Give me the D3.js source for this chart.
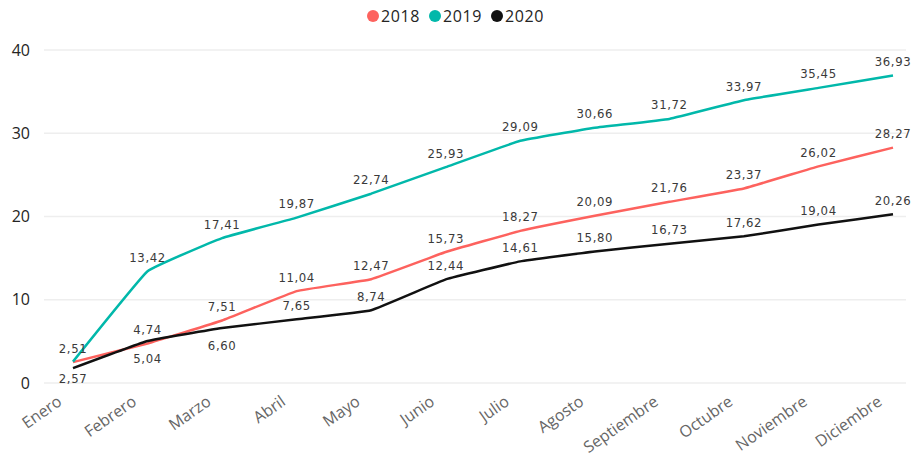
<!DOCTYPE html>
<html>
<head>
<meta charset="utf-8">
<script src="https://cdn.jsdelivr.net/npm/d3@7"></script>
<style>
	body {margin:0; background:#fff;}
	svg {display:block;}
</style>
</head>
<body>
<svg id="chart"></svg>
<script>
/*************** data *****************/
var months = ["Enero","Febrero","Marzo","Abril","Mayo","Junio","Julio","Agosto","Septiembre","Octubre","Noviembre","Diciembre"];
var years = ["2018","2019","2020"];
var values2018 = [2.51,4.74,7.51,11.04,12.47,15.73,18.27,20.09,21.76,23.37,26.02,28.27];
var values2019 = [2.57,13.42,17.41,19.87,22.74,25.93,29.09,30.66,31.72,33.97,35.45,36.93];
var values2020 = [1.78,5.04,6.60,7.65,8.74,12.44,14.61,15.80,16.73,17.62,19.04,20.26];
var yTicks = [0,10,20,30,40];
/*************** end data *************/

var width = 913,
	height = 456,
	colors = {"2018":"#FD625E","2019":"#01B8AA","2020":"#111111"},
	labelFont = "'DejaVu Sans Condensed','Liberation Sans Narrow',sans-serif";

var series = [
	{year:"2018", values:values2018},
	{year:"2019", values:values2019},
	{year:"2020", values:values2020}
];

var svg = d3.select("#chart")
	.attr("width",width)
	.attr("height",height);

//scales
var x = d3.scalePoint()
	.domain(months)
	.range([73,893]);

var y = d3.scaleLinear()
	.domain([0,40])
	.range([383,50]);

//gridlines
svg.append("g")
	.selectAll("line")
	.data(yTicks)
	.enter()
	.append("line")
		.attr("x1",44)
		.attr("x2",906)
		.attr("y1",function(d){return y(d);})
		.attr("y2",function(d){return y(d);})
		.attr("stroke","#eeeeee")
		.attr("stroke-width",1.5);

//y labels
svg.append("g")
	.selectAll("text")
	.data(yTicks)
	.enter()
	.append("text")
		.attr("x",30)
		.attr("y",function(d){return y(d);})
		.attr("dy","0.35em")
		.attr("text-anchor","end")
		.attr("font-family","'Open Sans',sans-serif")
		.attr("font-size",16)
		.attr("fill","#252423")
		.text(function(d){return d;});

//x labels
svg.append("g")
	.selectAll("text")
	.data(months)
	.enter()
	.append("text")
		.attr("transform",function(d){return "translate("+(x(d)-10)+",404) rotate(-35)";})
		.attr("text-anchor","end")
		.attr("font-family","'Open Sans',sans-serif")
		.attr("font-size",16)
		.attr("fill","#666666")
		.text(function(d){return d;});

//lines
var line = d3.line()
	.x(function(d,i){return x(months[i]);})
	.y(function(d){return y(d);})
	.curve(d3.curveCardinal.tension(0.75));

svg.append("g")
	.selectAll("path")
	.data(series)
	.enter()
	.append("path")
		.attr("d",function(d){return line(d.values);})
		.attr("fill","none")
		.attr("stroke",function(d){return colors[d.year];})
		.attr("stroke-width",2.5)
		.attr("stroke-linejoin","round");

//data labels, placed above unless they would collide with one already placed
var fmt = function(v){return v.toFixed(2).replace(".",",");};
var placed = [];
function hits(cx,cy){
	return placed.some(function(p){return Math.abs(p.x-cx)<30 && Math.abs(p.y-cy)<12;});
}
var labels = [];
[0,1,2].forEach(function(k){
	var s = series[k];
	s.values.forEach(function(v,i){
		var cx = x(months[i]), py = y(v);
		var cy = py-14;
		if(hits(cx,cy)) cy = py+17;
		if(hits(cx,cy)) return;
		placed.push({x:cx,y:cy});
		labels.push({x:cx,y:cy,t:fmt(v)});
	});
});

svg.append("g")
	.selectAll("text")
	.data(labels)
	.enter()
	.append("text")
		.attr("x",function(d){return d.x;})
		.attr("y",function(d){return d.y;})
		.attr("dy","0.35em")
		.attr("text-anchor","middle")
		.attr("font-family",labelFont)
		.attr("font-size",13)
		.attr("letter-spacing",0.6)
		.attr("fill","#3a3a3a")
		.text(function(d){return d.t;});

//legend
var legend = svg.append("g");
var lx = 367;
years.forEach(function(yr){
	legend.append("circle")
		.attr("cx",lx+6)
		.attr("cy",16)
		.attr("r",6)
		.attr("fill",colors[yr]);
	var t = legend.append("text")
		.attr("x",lx+14)
		.attr("y",16)
		.attr("dy","0.35em")
		.attr("font-family","'Open Sans',sans-serif")
		.attr("font-size",16)
		.attr("letter-spacing",0.6)
		.attr("fill","#252423")
		.text(yr);
	lx += 14 + t.node().getComputedTextLength() + 9;
});
</script>
</body>
</html>
